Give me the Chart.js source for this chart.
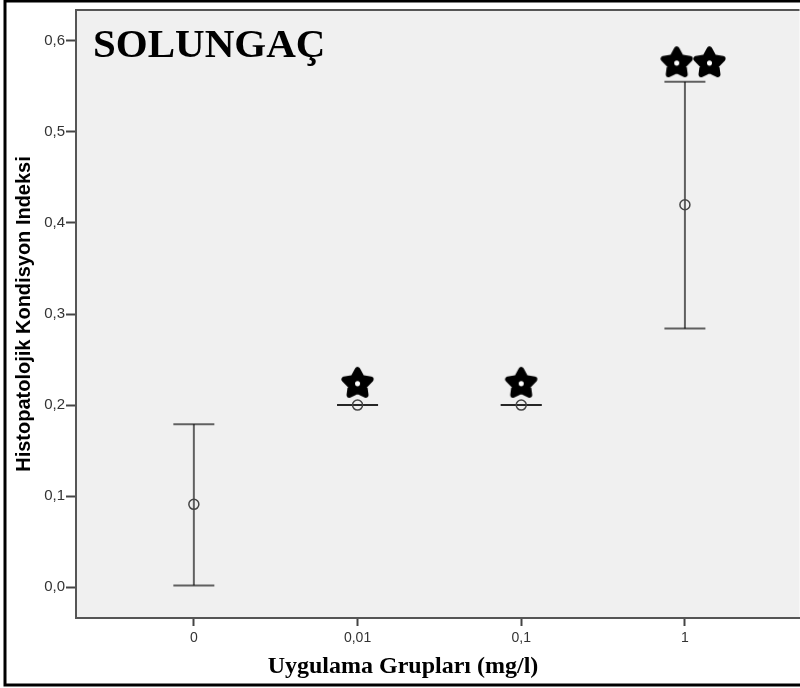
<!DOCTYPE html>
<html>
<head>
<meta charset="utf-8">
<script src="https://cdn.jsdelivr.net/npm/chart.js@4/dist/chart.umd.min.js"></script>
<style>
  html, body { margin: 0; background: #fff; overflow: hidden; }
  canvas { display: block; }
</style>
</head>
<body>
<canvas id="solungacChart" width="806" height="688"></canvas>
<script>
// --- veriler ---
const groups = ['0', '0,01', '0,1', '1'];
const means = [0.091, 0.2, 0.2, 0.42];
const lower = [0.002, 0.2, 0.2, 0.284];
const upper = [0.179, 0.2, 0.2, 0.555];
const yTicks = [0, 0.1, 0.2, 0.3, 0.4, 0.5, 0.6];
// anlamlılık yıldızları
const starX = [1, 2, 2.95, 3.15];
const starY = [0.225, 0.225, 0.577, 0.577];

function makeStar(size) {
    const c = document.createElement('canvas');
    c.width = c.height = size;
    const g = c.getContext('2d');
    const R = size * 0.36, r = size * 0.19;
    const cx = size / 2, cy = size / 2 + R * (1 - Math.cos(Math.PI / 5)) / 2;
    g.beginPath();
    for (let i = 0; i < 10; i++) {
        const rad = i % 2 === 0 ? R : r;
        const a = -Math.PI / 2 + i * Math.PI / 5;
        g.lineTo(cx + rad * Math.cos(a), cy + rad * Math.sin(a));
    }
    g.closePath();
    g.fillStyle = '#000';
    g.fill();
    g.lineJoin = 'round';
    g.lineWidth = size * 0.14;
    g.strokeStyle = '#000';
    g.stroke();
    g.fillStyle = '#fff';
    g.beginPath();
    g.arc(cx, cy, size * 0.065, 0, Math.PI * 2);
    g.fill();
    return c;
}
const starImg = makeStar(39);

// arka plan + çerçeve + başlık
const decor = {
    id: 'decor',
    beforeDraw(chart) {
        const { ctx, chartArea: a } = chart;
        ctx.save();
        ctx.fillStyle = '#f0f0f0';
        ctx.fillRect(a.left, a.top, a.right - a.left, a.bottom - a.top);
        ctx.restore();
    },
    afterDraw(chart) {
        const { ctx, chartArea: a } = chart;
        ctx.save();
        ctx.strokeStyle = '#555';
        ctx.lineWidth = 2;
        ctx.beginPath();
        ctx.moveTo(a.left, a.top);
        ctx.lineTo(a.right, a.top);
        ctx.stroke();
        ctx.font = 'bold 41px "Liberation Serif"';
        ctx.fillStyle = '#000';
        ctx.textBaseline = 'alphabetic';
        ctx.fillText('SOLUNGAÇ', a.left + 17, 57);
        ctx.strokeStyle = '#000';
        ctx.lineWidth = 3;
        ctx.strokeRect(5, 1, 820, 684);
        ctx.restore();
    }
};

// hata çubukları
const errorBars = {
    id: 'errorBars',
    beforeDatasetsDraw(chart) {
        const { ctx, scales: { x, y } } = chart;
        const cap = 20.5;
        ctx.save();
        ctx.strokeStyle = 'rgba(0,0,0,0.6)';
        ctx.lineWidth = 2;
        means.forEach((m, i) => {
            const px = x.getPixelForValue(i);
            const yl = y.getPixelForValue(lower[i]);
            const yu = y.getPixelForValue(upper[i]);
            ctx.beginPath();
            ctx.moveTo(px, yl);
            ctx.lineTo(px, yu);
            ctx.stroke();
            [yl, yu].forEach(py => {
                ctx.beginPath();
                ctx.moveTo(px - cap, py);
                ctx.lineTo(px + cap, py);
                ctx.stroke();
            });
        });
        ctx.restore();
    }
};

const ctx = document.getElementById('solungacChart');
new Chart(ctx, {
    type: 'scatter',
    data: {
        datasets: [
            {
                data: means.map((m, i) => ({ x: i, y: m })),
                pointStyle: 'circle',
                pointRadius: 5,
                borderWidth: 1.5,
                borderColor: '#444',
                backgroundColor: 'rgba(0,0,0,0)'
            },
            {
                data: starX.map((v, i) => ({ x: v, y: starY[i] })),
                pointStyle: starImg,
                pointRadius: 5
            }
        ]
    },
    options: {
        responsive: false,
        animation: false,
        events: [],
        layout: { padding: { top: 4, left: 0, right: 0, bottom: 0 } },
        plugins: {
            legend: { display: false },
            tooltip: { enabled: false },
            title: {
                display: true,
                position: 'bottom',
                text: 'Uygulama Grupları (mg/l)',
                color: '#000',
                font: { family: '"Liberation Serif"', size: 24, weight: 'bold' },
                padding: { top: 0, bottom: 7 }
            }
        },
        scales: {
            x: {
                type: 'linear',
                min: -0.72,
                max: 3.70,
                afterBuildTicks: (axis) => { axis.ticks = groups.map((g, i) => ({ value: i })); },
                afterFit: (axis) => { axis.height = 34.2; },
                ticks: {
                    callback: (v) => groups[v],
                    color: '#333',
                    padding: 4,
                    font: { family: '"Liberation Sans"', size: 14 }
                },
                grid: { drawOnChartArea: false, tickLength: 8, tickColor: '#444', tickWidth: 2 },
                border: { display: true, color: '#555', width: 2 }
            },
            y: {
                min: -0.0338,
                max: 0.6338,
                afterBuildTicks: (axis) => { axis.ticks = yTicks.map(v => ({ value: v })); },
                afterFit: (axis) => { axis.width = 76; },
                ticks: {
                    callback: (v) => v.toFixed(1).replace('.', ','),
                    color: '#333',
                    padding: 1,
                    font: { family: '"Liberation Sans"', size: 15 }
                },
                grid: { drawOnChartArea: false, tickLength: 10, tickColor: '#444', tickWidth: 2 },
                border: { display: true, color: '#555', width: 2 },
                title: {
                    display: true,
                    text: 'Histopatolojik Kondisyon Indeksi',
                    color: '#000',
                    font: { family: '"Liberation Sans"', size: 20, weight: 'bold' },
                    padding: { top: 12, bottom: 0 }
                }
            }
        }
    },
    plugins: [decor, errorBars]
});
</script>
</body>
</html>
